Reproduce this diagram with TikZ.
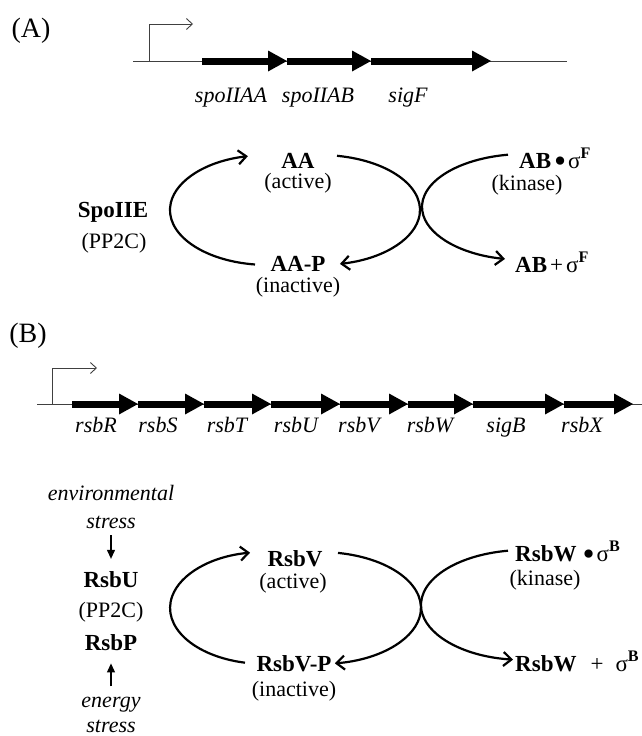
\documentclass[tikz,border=0pt]{standalone}
\usepackage{fontspec}
\setmainfont{Liberation Serif}
\usetikzlibrary{arrows.meta}
\newcommand\bigdot{\smash{\raisebox{-4pt}{\scalebox{1.5}{\textbullet}}}}
\begin{document}
\begin{tikzpicture}[x=1pt,y=-1pt,
  txt/.style={inner sep=0pt,anchor=base,font=\fontsize{22}{26}\selectfont},
  bold/.style={txt,font=\bfseries\fontsize{23}{27}\selectfont},
  gene/.style={txt,font=\itshape\fontsize{22}{26}\selectfont},
  panel/.style={txt,font=\fontsize{28}{32}\selectfont},
  dna/.style={line width=1pt,black!75},
  prom/.style={line width=0.9pt,black!75,-{Straight Barb[length=6pt,width=11pt]}},
  reaction/.style={line width=2.2pt,-{Straight Barb[length=8pt,width=14pt]}},
  signal/.style={line width=1.1pt,-{Triangle[length=9pt,width=8pt]}},
]
\useasboundingbox (0,0) rectangle (642,736);

% ---------------- panel A ----------------
\node[panel] (pA) at (31,37) {(A)};

% operon line with promoter
\coordinate (As) at (133,61);
\coordinate (Ae) at (567,61);
\draw[dna] (As) -- (Ae);
\coordinate (Ap) at (149,61);
\coordinate (Apt) at (149,24);
\coordinate (Aph) at (193,24);
\draw[prom] (Ap) -- (Apt) -- (Aph);

% genes
\foreach \s/\t in {202/287, 287/371, 371/491} {
  \fill (\s,57.5) rectangle (\t-17,64.5);
  \fill (\t-19,50.5) -- (\t,61) -- (\t-19,71.5) -- cycle;
}
\node[gene] (gAA) at (231,102) {spoIIAA};
\node[gene] (gAB) at (318,102) {spoIIAB};
\node[gene] (gF)  at (408,102) {sigF};

% partner-switch cycle
\node[bold] (aa)   at (298,168) {AA};
\node[txt]  (aaa)  at (298,188) {(active)};
\node[bold] (spo)  at (113,217) {SpoIIE};
\node[txt]  (pp2a) at (114,248) {(PP2C)};
\node[bold] (aap)  at (298,271) {AA-P};
\node[txt]  (aai)  at (298,292) {(inactive)};
\node[bold,anchor=base west] (abs) at (519,168)
  {AB\hspace{3pt}{\mdseries\bigdot}\hspace{2pt}{\mdseries σ}\textsuperscript{F}};
\node[txt]  (kinA) at (527,190) {(kinase)};
\node[bold,anchor=base west] (abf) at (515,272)
  {AB\hspace{3pt}{\mdseries +}\hspace{3pt}{\mdseries σ}\textsuperscript{F}};

\coordinate (la) at (255,264.5);
\draw[reaction] (la) arc[start angle=97.6, end angle=258.2, x radius=98, y radius=55];
\coordinate (ma) at (337,155.8);
\draw[reaction] (ma) arc[start angle=-80.2, end angle=78.5, x radius=100, y radius=55];
\coordinate (ra) at (508,154.7);
\draw[reaction] (ra) arc[start angle=260.5, end angle=101.2, x radius=103, y radius=53];

% ---------------- panel B ----------------
\node[panel] (pB) at (28,342) {(B)};

\coordinate (Bs) at (37,404);
\coordinate (Be) at (642,404);
\draw[dna] (Bs) -- (Be);
\coordinate (Bp) at (52,404);
\coordinate (Bpt) at (52,368);
\coordinate (Bph) at (97,368);
\draw[prom] (Bp) -- (Bpt) -- (Bph);

\foreach \s/\t in {72/138, 138/204, 204/271, 271/340, 340/408, 408/473, 473/564, 564/633} {
  \fill (\s,400.5) rectangle (\t-17,407.5);
  \fill (\t-19,393.5) -- (\t,404) -- (\t-19,414.5) -- cycle;
}
\node[gene] (gR) at (96,432)  {rsbR};
\node[gene] (gS) at (158,432) {rsbS};
\node[gene] (gT) at (227,432) {rsbT};
\node[gene] (gU) at (296,432) {rsbU};
\node[gene] (gV) at (359,432) {rsbV};
\node[gene] (gW) at (430,432) {rsbW};
\node[gene] (gB) at (506,432) {sigB};
\node[gene] (gX) at (582,432) {rsbX};

% input signals and phosphatases
\node[gene] (env)  at (111,500) {environmental};
\node[gene] (st1)  at (111,528) {stress};
\node[bold] (rsbu) at (111,587) {RsbU};
\node[txt]  (pp2b) at (111,617) {(PP2C)};
\node[bold] (rsbp) at (111,650) {RsbP};
\node[gene] (ene)  at (111,707) {energy};
\node[gene] (st2)  at (111,732) {stress};
\draw[signal,shorten <=7pt,shorten >=12pt] (st1.south) -- (rsbu.north);
\draw[signal,shorten <=10pt,shorten >=13pt] (ene.north) -- (rsbp.south);

% partner-switch cycle
\node[bold] (rv)   at (295,566) {RsbV};
\node[txt]  (rva)  at (293,588) {(active)};
\node[bold] (rvp)  at (294,671) {RsbV-P};
\node[txt]  (rvi)  at (294,696) {(inactive)};
\node[bold,anchor=base west] (rws) at (515,561)
  {RsbW\hspace{6pt}{\mdseries\bigdot}\hspace{2pt}{\mdseries σ}\textsuperscript{B}};
\node[txt]  (kinB) at (545,585) {(kinase)};
\node[bold,anchor=base west] (rwf) at (515,671)
  {RsbW\hspace{14pt}{\mdseries +}\hspace{12pt}{\mdseries σ}\textsuperscript{B}};

\coordinate (lb) at (245,662.7);
\draw[reaction] (lb) arc[start angle=102.2, end angle=260.9, x radius=95, y radius=56];
\coordinate (mb) at (338,552.9);
\draw[reaction] (mb) arc[start angle=-79.7, end angle=81.5, x radius=101, y radius=56];
\coordinate (rb) at (508,550.7);
\draw[reaction] (rb) arc[start angle=260.6, end angle=96.6, x radius=104, y radius=55];
\end{tikzpicture}
\end{document}
